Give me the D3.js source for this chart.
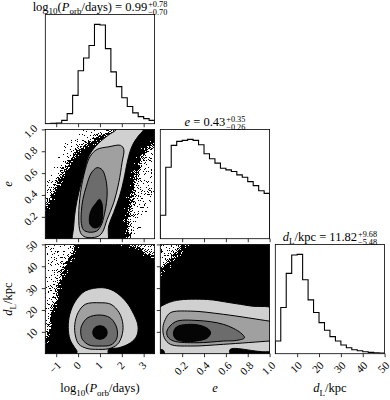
<!DOCTYPE html>
<html><head><meta charset="utf-8">
<script src="https://cdn.jsdelivr.net/npm/d3@7"></script>
<style>html,body{margin:0;padding:0;background:#fff;} svg{display:block;} text{fill:#000;}</style>
</head><body><svg id="chart" width="390" height="400"></svg>
<script>
// ---------------- data ----------------
const logPRange = [-1.5, 3.5];
const eRange = [0, 1];
const dLRange = [0, 50];
const logPTicks = [-1, 0, 1, 2, 3];
const logPTickLabels = ["−1", "0", "1", "2", "3"];
const eTicks = [0.2, 0.4, 0.6, 0.8, 1.0];
const eTickLabels = ["0.2", "0.4", "0.6", "0.8", "1.0"];
const dLTicks = [10, 20, 30, 40, 50];
const dLTickLabels = ["10", "20", "30", "40", "50"];

// 1-D marginal histograms (20 bins each over the axis range)
const logPCounts = [0, 1, 2, 10, 30, 84, 157, 195, 232, 295, 293, 223, 154, 110, 77, 51, 32, 21, 15, 10];
const eCounts = [70, 213, 278, 290, 293, 296, 293, 280, 253, 238, 225, 210, 205, 200, 190, 183, 170, 158, 143, 135];
const dLCounts = [38, 138, 240, 295, 297, 221, 161, 123, 93, 70, 51, 38, 26, 18, 12, 9, 6, 4, 3, 2];

// titles
const titleValues = ["0.99", "0.43", "11.82"];
const titleUpper = ["+0.78", "+0.35", "+9.68"];
const titleLower = ["−0.70", "−0.26", "−5.48"];

// 2-D panel: log10 P vs e  (sample-density region + 0.5/1/1.5/2 sigma contours)
const pe_dense = [[2.0,1.1],[3.7,1.1],[3.7,0.87],[3.45,0.86],[3.1,0.80],[2.85,0.72],[2.7,0.6],[2.55,0.45],[2.4,0.3],[2.28,0.146],[2.18,-0.1],[-1.7,-0.1],[-1.7,0.27],[-1.5,0.284],[-1.27,0.375],[-0.965,0.497],[-0.66,0.619],[-0.35,0.726],[0.03,0.817],[0.49,0.884],[1.02,0.939],[1.63,0.985]];
const pe_sparse = [[2.3,0.05],[2.45,0.35],[2.65,0.6],[2.95,0.78],[3.6,0.9],[3.6,0.45],[3.1,0.3],[2.7,0.1],[2.5,-0.05]];
const pe_fringe = [[-1.7,0.5],[-1.2,0.62],[-0.9,0.75],[-0.5,0.86],[0,0.95],[0.5,1.05],[1.5,1.1],[1.6,1.0],[1.0,0.94],[0.5,0.885],[0,0.82],[-0.35,0.73],[-0.66,0.62],[-0.97,0.5],[-1.27,0.375],[-1.7,0.27]];
const pe_c1 = [[-0.2,-0.1],[-0.2,0.116],[-0.12,0.27],[0.03,0.42],[0.26,0.6],[0.49,0.756],[0.87,0.86],[1.4,0.95],[1.75,1.0],[1.9,1.1],[3.0,1.1],[3.0,1.0],[2.8,0.95],[2.55,0.88],[2.38,0.8],[2.25,0.7],[2.09,0.54],[1.9,0.39],[1.63,0.24],[1.4,0.116],[1.28,-0.1]];
const pe_c2 = [[0.33,0.015],[0.11,0.055],[0.03,0.207],[0.11,0.42],[0.33,0.634],[0.56,0.756],[0.87,0.817],[1.41,0.841],[1.94,0.854],[2.09,0.817],[2.01,0.695],[1.86,0.512],[1.63,0.329],[1.33,0.177],[1.1,0.055],[0.87,0.018]];
const pe_c3 = [[0.87,0.65],[0.6,0.6],[0.38,0.48],[0.22,0.36],[0.15,0.25],[0.15,0.14],[0.25,0.08],[0.5,0.06],[0.85,0.07],[1.05,0.12],[1.2,0.22],[1.3,0.33],[1.33,0.44],[1.25,0.56],[1.1,0.63]];
const pe_c4 = [[0.55,0.13],[0.52,0.2],[0.62,0.27],[0.8,0.32],[0.98,0.36],[1.08,0.33],[1.12,0.25],[1.08,0.16],[0.95,0.11],[0.72,0.1]];

// 2-D panel: log10 P vs d_L
const pd_dense = [[-0.15,52],[-0.12,50],[-0.5,42.4],[-0.81,34.8],[-1.04,25.6],[-1.27,16.5],[-1.47,7.3],[-1.7,3],[-1.7,-2],[3.7,-2],[3.7,42],[3.1,46],[2.4,50],[2.0,52]];
const pd_sparse = [[1.8,52],[3.7,52],[3.7,38],[3.0,45.5]];
const pd_fringe = [[-1.7,52],[-0.45,52],[-1.0,33],[-1.7,12]];
const pd_c1 = [[1.1,30.2],[0.33,28.7],[-0.12,24.1],[-0.38,18],[-0.45,11.9],[-0.37,6.6],[-0.15,2.7],[-0.05,1.2],[-0.05,-1],[1.33,-1],[1.4,2],[1.86,2.7],[2.4,5.0],[2.68,8.1],[2.74,12.7],[2.55,18],[2.17,24.1],[1.63,28.7]];
const pd_c2 = [[1.0,23.3],[0.33,22.6],[0.0,18.75],[-0.15,13.4],[-0.12,8.1],[0.04,4.3],[0.41,2.4],[0.79,2.0],[1.41,2.3],[1.8,4.3],[2.0,8.1],[2.05,13.4],[1.88,18.75],[1.5,22.6]];
const pd_c3 = [[1.0,17.7],[0.45,16.5],[0.17,13],[0.12,10],[0.2,6.5],[0.5,4],[1.0,3.5],[1.5,4],[1.75,6.5],[1.8,10],[1.7,13.5],[1.45,16.5]];
const pd_c4 = [[1.0,12.8],[0.76,11.9],[0.67,9.7],[0.76,7.5],[1.0,6.6],[1.24,7.5],[1.33,9.7],[1.24,11.9]];

// 2-D panel: e vs d_L
const ed_dense = [[0.28,52],[0.214,50],[0.153,47],[0.092,43.1],[0.03,39.3],[-0.05,36],[-0.05,-2],[1.05,-2],[1.05,52]];
const ed_sparse = [[-0.05,52],[0.3,52],[0.15,45],[-0.05,32]];
const ed_fringe = [[-0.05,52],[0.12,52],[-0.05,44]];
const ed_c1 = [[-0.05,19.2],[0.03,22.3],[0.15,24.4],[0.43,24.8],[0.64,23.3],[0.83,21.8],[1.05,20.0],[1.05,2.0],[0.64,2.0],[0.63,-1],[0.05,-1],[0.03,1.5],[-0.05,3]];
const ed_c2 = [[0.092,18.75],[0.275,19.5],[0.58,18],[1.0,14.9],[1.06,14.5],[1.06,6],[1.0,5.8],[0.58,4.3],[0.275,3.5],[0.092,4.3],[0.037,7.3],[0.024,11.9],[0.046,15.7]];
const ed_c3 = [[0.061,10.4],[0.138,14.6],[0.336,15.2],[0.58,13.4],[0.734,9.6],[0.77,7.3],[0.70,6.1],[0.58,5.8],[0.336,5.0],[0.122,5.8],[0.07,7.6]];
const ed_c4 = [[0.12,9.5],[0.15,12.3],[0.25,13.4],[0.36,13.0],[0.44,11.3],[0.46,9.5],[0.43,7.2],[0.33,5.8],[0.22,5.6],[0.14,6.8]];

// ---------------- layout / style ----------------
const FONT = "'Liberation Serif', 'DejaVu Serif', serif";
const LABFS = 12.5, TICKFS = 11;
const X0 = 45.3, Y0 = 14.4, S = 109.3, STEP = 115;
const colX = c => X0 + c * STEP;
const rowY = r => Y0 + r * STEP;
const bandFill = ["#d0d0d0", "#a0a0a0", "#6c6c6c", "#050505"];

const svg = d3.select("#chart");
svg.append("rect").attr("width", 390).attr("height", 400).attr("fill", "#fff");
const defs = svg.append("defs");

// dithering filter: turns smooth density into speckle at the fringes
const f = defs.append("filter").attr("id", "dither")
  .attr("filterUnits", "userSpaceOnUse").attr("x", 0).attr("y", 0).attr("width", 390).attr("height", 400)
  .attr("color-interpolation-filters", "sRGB");
f.append("feGaussianBlur").attr("in", "SourceAlpha").attr("stdDeviation", 3).attr("result", "soft");
f.append("feTurbulence").attr("type", "fractalNoise").attr("baseFrequency", 1.3).attr("numOctaves", 1).attr("seed", 7).attr("result", "noise");
f.append("feColorMatrix").attr("in", "noise").attr("type", "matrix")
  .attr("values", "0 0 0 0 0  0 0 0 0 0  0 0 0 0 0  2.6 0 0 0 -0.8").attr("result", "n0");
const ct = f.append("feComponentTransfer").attr("in", "n0").attr("result", "n");
ct.append("feFuncA").attr("type", "linear").attr("slope", 0.96).attr("intercept", 0.02);
f.append("feComposite").attr("in", "soft").attr("in2", "n").attr("operator", "arithmetic")
  .attr("k1", 0).attr("k2", 1).attr("k3", -1).attr("k4", 0.5).attr("result", "diff");
const ct2 = f.append("feComponentTransfer").attr("in", "diff").attr("result", "mask");
ct2.append("feFuncA").attr("type", "discrete").attr("tableValues", "0 1");
f.append("feFlood").attr("flood-color", "#000").attr("result", "ink");
f.append("feComposite").attr("in", "ink").attr("in2", "mask").attr("operator", "in");

// scales
const xP = d3.scaleLinear(logPRange, [colX(0), colX(0) + S]);
const xE = d3.scaleLinear(eRange, [colX(1), colX(1) + S]);
const xD = d3.scaleLinear(dLRange, [colX(2), colX(2) + S]);
const yE = d3.scaleLinear(eRange, [rowY(1) + S, rowY(1)]);
const yD = d3.scaleLinear(dLRange, [rowY(2) + S, rowY(2)]);

let clipN = 0;
function clipFor(c, r) {
  const id = "clip" + (clipN++);
  defs.append("clipPath").attr("id", id).append("rect")
    .attr("x", colX(c)).attr("y", rowY(r)).attr("width", S).attr("height", S);
  return "url(#" + id + ")";
}
function frame(c, r) {
  svg.append("rect").attr("x", colX(c)).attr("y", rowY(r)).attr("width", S).attr("height", S)
    .attr("fill", "none").attr("stroke", "#000").attr("stroke-width", 0.8);
}

function hist(counts, xs, range, c, r) {
  const yH = d3.scaleLinear([0, 1.1 * d3.max(counts)], [rowY(r) + S, rowY(r)]);
  const nb = counts.length;
  const edges = d3.range(nb + 1).map(i => range[0] + i * (range[1] - range[0]) / nb);
  const pts = [[edges[0], 0]];
  counts.forEach((v, i) => { pts.push([edges[i], v], [edges[i + 1], v]); });
  pts.push([edges[nb], 0]);
  svg.append("g").attr("clip-path", clipFor(c, r)).append("path")
    .attr("d", d3.line().x(d => xs(d[0])).y(d => yH(d[1]))(pts))
    .attr("fill", "none").attr("stroke", "#000").attr("stroke-width", 1.1).attr("stroke-linejoin", "miter");
  frame(c, r);
}

function panel2D(c, r, xs, ys, dense, sparse, fringe, contours) {
  const line = d3.line().x(d => xs(d[0])).y(d => ys(d[1])).curve(d3.curveCatmullRomClosed.alpha(0.5));
  const g = svg.append("g").attr("clip-path", clipFor(c, r));
  const dg = g.append("g").attr("filter", "url(#dither)");
  dg.append("path").attr("d", line(fringe)).attr("fill", "#000").attr("fill-opacity", 0.12);
  dg.append("path").attr("d", line(sparse)).attr("fill", "#000").attr("fill-opacity", 0.18);
  dg.append("path").attr("d", line(dense)).attr("fill", "#000");
  contours.forEach((cp, i) => {
    g.append("path").attr("d", line(cp)).attr("fill", bandFill[i]);
  });
  contours.forEach(cp => {
    g.append("path").attr("d", line(cp)).attr("fill", "none").attr("stroke", "#000").attr("stroke-width", 1.0);
  });
  frame(c, r);
}

// rotated (45 deg) tick labels, placed in absolute page coordinates with a matrix transform
const C45 = Math.SQRT1_2;
function tickLabel(cx, cy, label) {
  const t = svg.append("text").text(label)
    .attr("font-family", FONT).attr("font-size", TICKFS).attr("fill", "#000")
    .attr("text-anchor", "middle").attr("dy", "0.33em");
  t.attr("transform", `matrix(${C45},${-C45},${C45},${C45},${cx.toFixed(2)},${cy.toFixed(2)})`);
  return t;
}
function halfDiag(label) {
  const probe = svg.append("text").text(label).attr("font-family", FONT).attr("font-size", TICKFS);
  const w = probe.node().getComputedTextLength();
  probe.remove();
  return (w + TICKFS * 0.7) * C45 / 2;
}

function xAxis(scale, ticks, labels, r, show) {
  const ax = d3.axisBottom(scale).tickValues(ticks).tickSize(3.5).tickSizeOuter(0).tickFormat(() => "");
  const y0 = rowY(r) + S;
  const g = svg.append("g").attr("transform", `translate(0,${y0})`).call(ax);
  g.select(".domain").remove();
  g.selectAll(".tick text").remove();
  g.selectAll(".tick line").attr("stroke", "#000").attr("stroke-width", 0.8);
  if (show) ticks.forEach((v, i) => {
    tickLabel(scale(v) - 1, y0 + 7 + halfDiag(labels[i]), labels[i]);
  });
}
function yAxis(scale, ticks, labels, c, show) {
  const ax = d3.axisLeft(scale).tickValues(ticks).tickSize(3.5).tickSizeOuter(0).tickFormat(() => "");
  const x0 = colX(c);
  const g = svg.append("g").attr("transform", `translate(${x0},0)`).call(ax);
  g.select(".domain").remove();
  g.selectAll(".tick text").remove();
  g.selectAll(".tick line").attr("stroke", "#000").attr("stroke-width", 0.8);
  if (show) ticks.forEach((v, i) => {
    tickLabel(x0 - 7 - halfDiag(labels[i]), scale(v) + 2, labels[i]);
  });
}

function rich(parent, parts, fs) {
  const t = parent.append("text").attr("font-family", FONT).attr("font-size", fs)
    .attr("fill", "#000").style("white-space", "pre");
  let cur = 0;
  parts.forEach(([s, k]) => {
    const sub = k === "sub";
    const target = sub ? fs * 0.28 : 0;
    const sp = t.append("tspan").text(s).attr("dy", target - cur).attr("fill", "#000");
    cur = target;
    if (sub) sp.attr("font-size", fs * 0.72);
    if (k === "it") sp.attr("font-style", "italic");
  });
  return t;
}
function title(c, parts, up, lo) {
  const g = svg.append("g");
  const t = rich(g, parts, LABFS);
  const w = t.node().getBBox().width;
  const ss = LABFS * 0.66;
  const u = g.append("text").attr("x", w + 1).attr("y", -LABFS * 0.33).attr("font-size", ss)
    .attr("font-family", FONT).attr("fill", "#000").text(up);
  const l = g.append("text").attr("x", w + 1).attr("y", LABFS * 0.3).attr("font-size", ss)
    .attr("font-family", FONT).attr("fill", "#000").text(lo);
  const tot = w + 1 + Math.max(u.node().getComputedTextLength(), l.node().getComputedTextLength());
  g.attr("transform", `translate(${colX(c) + S / 2 - tot / 2},${rowY(c) - 3.5})`);
}
function xLabel(c, parts) {
  rich(svg, parts, LABFS).attr("text-anchor", "middle")
    .attr("x", colX(c) + S / 2).attr("y", 392);
}
function yLabel(r, parts) {
  rich(svg, parts, LABFS).attr("text-anchor", "middle")
    .attr("transform", `translate(12,${rowY(r) + S / 2}) rotate(-90)`);
}

// ---------------- draw ----------------
hist(logPCounts, xP, logPRange, 0, 0);
hist(eCounts, xE, eRange, 1, 1);
hist(dLCounts, xD, dLRange, 2, 2);

panel2D(0, 1, xP, yE, pe_dense, pe_sparse, pe_fringe, [pe_c1, pe_c2, pe_c3, pe_c4]);
panel2D(0, 2, xP, yD, pd_dense, pd_sparse, pd_fringe, [pd_c1, pd_c2, pd_c3, pd_c4]);
panel2D(1, 2, xE, yD, ed_dense, ed_sparse, ed_fringe, [ed_c1, ed_c2, ed_c3, ed_c4]);

// axes
xAxis(xP, logPTicks, logPTickLabels, 0, false);
xAxis(xP, logPTicks, logPTickLabels, 1, false);
xAxis(xP, logPTicks, logPTickLabels, 2, true);
xAxis(xE, eTicks, eTickLabels, 1, false);
xAxis(xE, eTicks, eTickLabels, 2, true);
xAxis(xD, dLTicks, dLTickLabels, 2, true);
yAxis(yE, eTicks, eTickLabels, 0, true);
yAxis(yD, dLTicks, dLTickLabels, 0, true);
yAxis(yD, dLTicks, dLTickLabels, 1, false);

// labels
const labP = [["log", "rm"], ["10", "sub"], ["(", "rm"], ["P", "it"], ["orb", "sub"], ["/days)", "rm"]];
const labE = [["e", "it"]];
const labD = [["d", "it"], ["L", "sub"], ["/kpc", "rm"]];
xLabel(0, labP); xLabel(1, labE); xLabel(2, labD);
yLabel(1, labE); yLabel(2, labD);

title(0, labP.concat([[" = " + titleValues[0], "rm"]]), titleUpper[0], titleLower[0]);
title(1, labE.concat([[" = " + titleValues[1], "rm"]]), titleUpper[1], titleLower[1]);
title(2, labD.concat([[" = " + titleValues[2], "rm"]]), titleUpper[2], titleLower[2]);
</script>
</body></html>
